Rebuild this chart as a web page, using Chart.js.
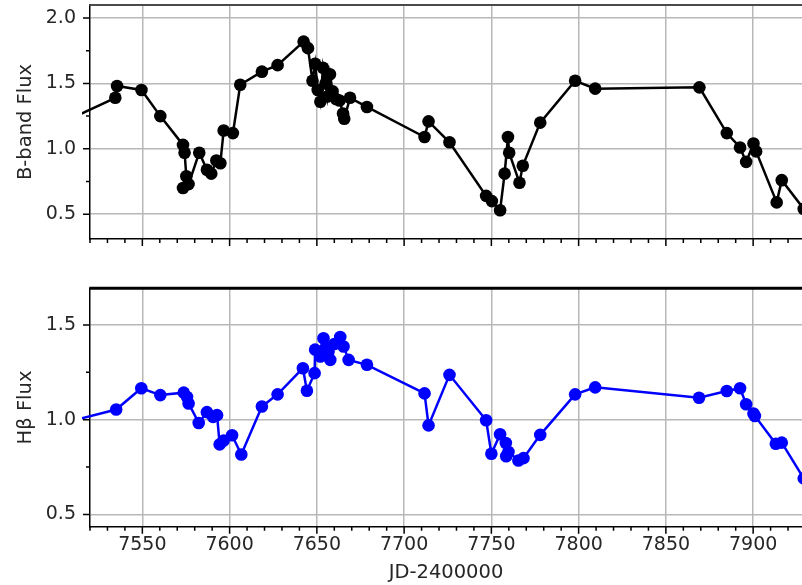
<!DOCTYPE html>
<html><head><meta charset="utf-8">
<script src="https://cdn.jsdelivr.net/npm/chart.js@4.4.1/dist/chart.umd.min.js"></script>
<style>
html,body{margin:0;padding:0;background:#fff;}
#wrap{position:relative;width:802px;height:585px;overflow:hidden;background:#fff;}
canvas{position:absolute;left:0;}
</style></head><body>
<div id="wrap">
<canvas id="cTop" width="802" height="250" style="top:0px"></canvas>
<canvas id="cBot" width="802" height="335" style="top:250px"></canvas>
</div>
<script>
// ---- data ----
const jdB = [7512,7534.5,7535.5,7549.5,7560.3,7573.3,7574.2,7575.2,7573.3,7576.5,7582.6,7587,7589.5,7592.4,7594.7,7596.6,7601.9,7606.1,7618.5,7627.5,7642.4,7644.9,7647.5,7649,7650.5,7652,7653.5,7655,7656,7657.5,7659,7661,7663,7665,7665.7,7669,7678.7,7711.7,7714,7726,7747,7750.3,7755,7757.6,7759.5,7760.2,7766.1,7768,7778,7798,7809.5,7869.2,7884.9,7892.5,7896,7900.2,7901.7,7913.5,7916.4,7929];
const fluxB = [1.25,1.39,1.48,1.45,1.25,1.03,0.97,0.79,0.70,0.73,0.97,0.84,0.81,0.91,0.89,1.14,1.12,1.49,1.59,1.64,1.82,1.77,1.52,1.65,1.45,1.36,1.62,1.50,1.40,1.57,1.44,1.38,1.37,1.27,1.23,1.39,1.32,1.09,1.21,1.05,0.64,0.60,0.53,0.81,1.09,0.97,0.74,0.87,1.20,1.52,1.46,1.47,1.12,1.01,0.90,1.04,0.98,0.59,0.76,0.54];
const jdH = [7512,7535,7549.4,7560.3,7573.7,7575.6,7576.5,7582.3,7587,7590.5,7592.8,7594.3,7596.6,7601.4,7606.7,7618.5,7627.5,7642,7644.3,7648.7,7649,7652,7653.8,7655,7656.7,7657.7,7660,7663.4,7665.3,7668.2,7678.7,7711.7,7714,7726,7747,7750,7755,7758.3,7758.5,7759.8,7765.5,7768.4,7778,7798,7809.5,7869,7884.9,7892.5,7896,7900.2,7901,7913,7916.4,7929];
const fluxH = [1.00,1.054,1.166,1.13,1.143,1.12,1.086,0.983,1.04,1.015,1.024,0.87,0.89,0.918,0.816,1.07,1.134,1.272,1.153,1.246,1.37,1.334,1.43,1.38,1.36,1.316,1.40,1.437,1.387,1.316,1.29,1.139,0.97,1.237,0.997,0.82,0.923,0.877,0.807,0.83,0.785,0.797,0.92,1.134,1.171,1.116,1.152,1.166,1.082,1.033,1.02,0.873,0.879,0.69];
const xTickLabels = [7550,7600,7650,7700,7750,7800,7850,7900];
const yTickLabelsB = [0.5,1.0,1.5,2.0];
const yTickLabelsH = [0.5,1.0,1.5];
const xRange = [7520,7928];
const yRangeB = [0.31,2.10];
const yRangeH = [0.435,1.694];

// minor ticks
const xMinor = [];
for (let v = 7520; v <= 7928; v += 10) if (v % 50 !== 0) xMinor.push(v);
const yMinorB = [0.75,1.25,1.75];
const yMinorH = [0.75,1.25];

const FONT = "'DejaVu Sans', sans-serif";
const TXT = '#262626';

const tickPlugin = {
  id: 'mplTicks',
  afterDraw(chart, args, o) {
    const ctx = chart.ctx, a = chart.chartArea, xs = chart.scales.x, ys = chart.scales.y;
    ctx.save();
    ctx.strokeStyle = '#000';
    ctx.lineWidth = 1.5;
    ctx.beginPath();
    const xt = (v, len) => { const p = xs.getPixelForValue(v); if (p < a.left - 0.5 || p > a.right + 0.5) return; ctx.moveTo(p, a.bottom); ctx.lineTo(p, a.bottom + len); };
    const yt = (v, len) => { const p = ys.getPixelForValue(v); if (p < a.top - 0.5 || p > a.bottom + 0.5) return; ctx.moveTo(a.left, p); ctx.lineTo(a.left - len, p); };
    xMinor.forEach(v => xt(v, 4));
    xTickLabels.forEach(v => xt(v, 7));
    o.yMinor.forEach(v => yt(v, 4));
    o.yMajor.forEach(v => yt(v, 7));
    ctx.stroke();
    ctx.beginPath();
    ctx.strokeStyle = o.topColor;
    ctx.lineWidth = o.topWidth;
    ctx.moveTo(a.left - 0.75, a.top);
    ctx.lineTo(a.right, a.top);
    ctx.stroke();
    ctx.restore();
  }
};

function makeChart(id, jd, flux, color, yRange, yMajor, yMinor, yTitle, isBottom, padTop, xHeight, topColor, topWidth) {
  const pts = jd.map((x, i) => ({x: x, y: flux[i]}));
  return new Chart(document.getElementById(id), {
    type: 'line',
    data: { datasets: [{
      data: pts,
      borderColor: color,
      backgroundColor: color,
      borderWidth: 2.5,
      pointRadius: 6.3,
      pointHoverRadius: 6.3,
      pointBorderWidth: 0,
      pointBackgroundColor: color,
      tension: 0,
      fill: false,
      clip: 8
    }]},
    options: {
      responsive: false,
      animation: false,
      devicePixelRatio: 1,
      events: [],
      layout: { autoPadding: false, padding: { top: padTop, left: 0, right: 0, bottom: 0 } },
      plugins: {
        legend: { display: false },
        tooltip: { enabled: false },
        mplTicks: { yMajor: yMajor, yMinor: yMinor, topColor: topColor, topWidth: topWidth }
      },
      scales: {
        x: {
          type: 'linear',
          min: xRange[0], max: xRange[1],
          afterBuildTicks: s => { s.ticks = xTickLabels.map(v => ({value: v})); },
          afterFit: s => { s.height = xHeight; s.paddingLeft = 0; s.paddingRight = 0; },
          grid: { color: '#b8b8b8', lineWidth: 1.5, drawTicks: false },
          border: { display: true, color: '#000', width: 1.5 },
          ticks: {
            display: isBottom,
            padding: 7,
            color: TXT,
            maxRotation: 0,
            font: { family: FONT, size: 19 },
            callback: v => String(v)
          },
          title: {
            display: isBottom,
            text: 'JD-2400000',
            color: TXT,
            font: { family: FONT, size: 19.5 },
            padding: { top: 0, bottom: 0 }
          }
        },
        y: {
          type: 'linear',
          min: yRange[0], max: yRange[1],
          afterBuildTicks: s => { s.ticks = yMajor.map(v => ({value: v})); },
          afterFit: s => { s.width = 90; s.paddingTop = 0; s.paddingBottom = 0; },
          grid: { color: '#b8b8b8', lineWidth: 1.5, drawTicks: false },
          border: { display: true, color: '#000', width: 1.5 },
          ticks: {
            padding: 14,
            color: TXT,
            font: { family: FONT, size: 19 },
            callback: v => Number(v).toFixed(1)
          },
          title: {
            display: true,
            text: yTitle,
            color: TXT,
            font: { family: FONT, size: 19.5 },
            padding: { top: 14, bottom: 0 }
          }
        }
      }
    },
    plugins: [tickPlugin]
  });
}

makeChart('cTop', jdB, fluxB, '#000000', yRangeB, yTickLabelsB, yMinorB, 'B-band Flux', false, 5, 11, '#4a4a4a', 2);
makeChart('cBot', jdH, fluxH, '#0000ff', yRangeH, yTickLabelsH, yMinorH, 'H\u03B2 Flux', true, 38.3, 58.3, '#000000', 3);
</script>
</body></html>
